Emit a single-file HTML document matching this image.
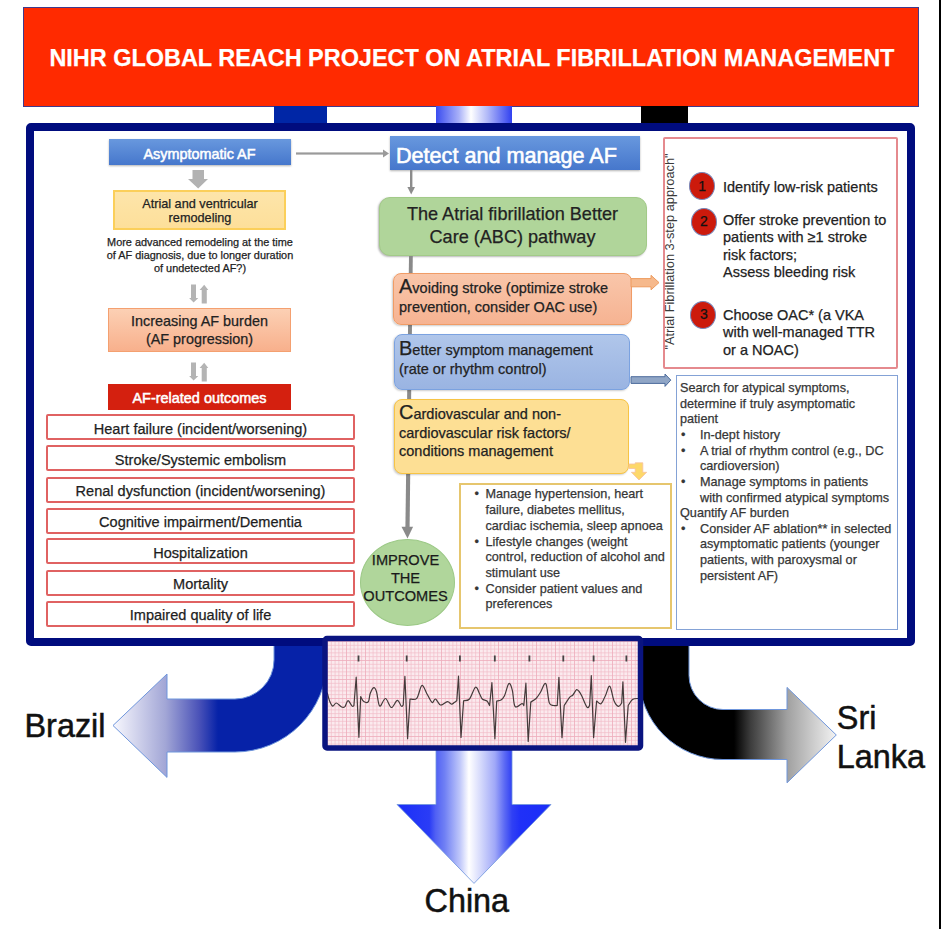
<!DOCTYPE html>
<html><head><meta charset="utf-8">
<style>
html,body{margin:0;padding:0;background:#fff;}
body{width:941px;height:929px;position:relative;overflow:hidden;font-family:"Liberation Sans",sans-serif;color:#222;}
.a{position:absolute;box-sizing:border-box;}
.t{position:absolute;white-space:nowrap;-webkit-text-stroke:0.25px currentColor;}
svg{position:absolute;left:0;top:0;}
</style></head><body>
<div class="a" style="left:939px;top:0px;width:2px;height:929px;background:#000"></div>
<div class="a" style="left:22.5px;top:6.8px;width:896px;height:100px;background:#ff2a00;border:1.6px solid #403a8c"></div>
<div class="t" style="left:49.4px;top:43.67px;text-align:left;font-size:23.45px;line-height:28px;font-weight:bold;color:#fff;">NIHR GLOBAL REACH PROJECT ON ATRIAL FIBRILLATION MANAGEMENT</div>
<div class="a" style="left:274px;top:106px;width:53px;height:20px;background:#0026a6"></div>
<div class="a" style="left:436px;top:106px;width:76px;height:20px;background:linear-gradient(90deg,#3a4cf0,#a8b0f8 30%,#fff 46%,#b0b8f8 68%,#3040f0)"></div>
<div class="a" style="left:641px;top:106px;width:47px;height:20px;background:#000"></div>

<svg class="a" style="left:0;top:0" width="941" height="929" viewBox="0 0 941 929">
<defs>
<linearGradient id="gBr" gradientUnits="userSpaceOnUse" x1="113" y1="0" x2="218" y2="0">
<stop offset="0" stop-color="#f8f8fe"/><stop offset="0.5" stop-color="#a2a6d6"/><stop offset="0.82" stop-color="#4a52b8"/><stop offset="1" stop-color="#0622a8"/></linearGradient>
<linearGradient id="gSl" gradientUnits="userSpaceOnUse" x1="734" y1="0" x2="836" y2="0">
<stop offset="0" stop-color="#000"/><stop offset="0.16" stop-color="#3c3c3c"/><stop offset="0.52" stop-color="#a0a0a0"/><stop offset="0.75" stop-color="#c8c8c8"/><stop offset="1" stop-color="#f2f2f2"/></linearGradient>
<linearGradient id="gCh" gradientUnits="userSpaceOnUse" x1="397" y1="0" x2="551" y2="0">
<stop offset="0" stop-color="#1a2ef8"/><stop offset="0.21" stop-color="#2a3cf6"/><stop offset="0.25" stop-color="#5060f4"/><stop offset="0.31" stop-color="#7080f4"/><stop offset="0.41" stop-color="#c0c8fa"/><stop offset="0.467" stop-color="#ffffff"/><stop offset="0.538" stop-color="#d8dcfc"/><stop offset="0.636" stop-color="#a0a8f8"/><stop offset="0.70" stop-color="#5a68f4"/><stop offset="0.747" stop-color="#3040f4"/><stop offset="0.8" stop-color="#2030f8"/><stop offset="1" stop-color="#1a2ef8"/></linearGradient>
</defs>
<path d="M274,640 L274,660 A39,39 0 0 1 235,699 L167,699 L167,674 L113,725.5 L167,777.4 L167,752 L235,752 A92,92 0 0 0 327,660 L327,640 Z" fill="url(#gBr)" stroke="#6f96dc" stroke-width="1"/>
<path d="M689,640 L689,675.5 A34,34 0 0 0 723,709.5 L787,709.5 L787,687.4 L836.3,735 L787,782.8 L787,759.5 L723,759.5 A84,84 0 0 1 639,675.5 L639,640 Z" fill="url(#gSl)" stroke="#6f96dc" stroke-width="1"/>
<path d="M436,745 L512,745 L512,804.5 L551,804.5 L474,883.4 L397,804.5 L436,804.5 Z" fill="url(#gCh)" stroke="#6f96dc" stroke-width="0.8"/>
</svg><div class="a" style="left:26px;top:123px;width:889px;height:523px;border:8px solid #000c7e;border-radius:5px"></div>
<svg width="941" height="929" viewBox="0 0 941 929">
<defs>
<pattern id="gridMinor" patternUnits="userSpaceOnUse" x="327" y="641" width="3.8" height="3.8"><rect width="3.8" height="3.8" fill="#fbeaee"/><rect width="0.7" height="3.8" fill="#f2bcc8"/><rect width="3.8" height="0.7" fill="#f2bcc8"/></pattern>
<pattern id="gridMajor" patternUnits="userSpaceOnUse" x="327" y="641" width="19" height="19"><rect width="1" height="19" fill="#e890a4"/><rect width="19" height="1" fill="#e890a4"/></pattern>
<filter id="blur1" x="-5%" y="-5%" width="110%" height="110%"><feGaussianBlur stdDeviation="0.35"/></filter>
</defs>
<rect x="325" y="638.5" width="315.5" height="109.5" fill="url(#gridMinor)"/>
<rect x="325" y="638.5" width="315.5" height="109.5" fill="url(#gridMajor)" opacity="0.3"/>
<g filter="url(#blur1)"><path d="M327.3,693.0 C327.7,694.3 328.6,698.5 329.5,700.7 C330.4,702.9 331.6,705.7 332.7,706.1 C333.8,706.5 334.8,702.9 336.3,703.0 C337.8,703.1 340.3,706.4 341.7,707.0 C343.1,707.6 343.8,707.6 344.9,706.6 C345.9,705.6 346.8,700.8 348.0,700.7 C349.2,700.6 351.1,705.3 352.1,706.1 C353.1,706.9 353.6,705.8 353.9,705.7 L356.2,677.2 L358.9,737.3 L360.7,696.6 C361.2,697.4 362.5,700.8 363.8,701.6 C365.1,702.4 367.3,703.0 368.4,701.6 C369.5,700.2 369.3,695.8 370.2,693.5 C371.1,691.2 372.8,687.9 373.8,687.6 C374.9,687.3 375.5,688.6 376.5,691.7 C377.5,694.8 378.2,705.0 379.7,706.1 C381.2,707.2 383.6,698.3 385.5,698.5 C387.4,698.7 389.4,707.2 391.4,707.5 C393.4,707.8 395.6,700.5 397.3,700.3 C399.0,700.1 400.3,705.3 401.3,706.1 C402.3,706.9 402.9,705.2 403.2,705.0 L404.9,676.3 L407.6,738.7 L410.0,699.0 C411.1,698.9 414.8,700.5 416.8,698.3 C418.8,696.0 420.2,686.2 421.9,685.5 C423.6,684.8 425.3,691.2 427.0,694.0 C428.7,696.8 430.7,701.7 432.1,702.5 C433.5,703.3 434.1,698.6 435.5,699.0 C436.9,699.4 438.6,704.5 440.6,705.0 C442.6,705.5 445.5,701.8 447.4,701.7 C449.2,701.6 450.6,704.1 451.7,704.2 C452.8,704.3 453.3,703.1 454.2,702.5 C455.1,701.9 456.4,701.1 456.8,700.8 L458.5,676.2 L461.0,737.4 L463.6,700.8 C464.6,700.5 467.5,701.3 469.5,699.0 C471.5,696.7 473.8,688.0 475.5,687.2 C477.2,686.4 478.6,692.0 479.7,694.0 C480.8,696.0 481.1,697.8 482.3,699.0 C483.5,700.2 485.8,699.9 487.0,701.0 C488.2,702.1 489.2,704.8 489.6,705.5 L491.9,682.7 L494.9,738.8 L496.7,701.0 C497.4,700.8 499.7,700.9 501.0,700.0 C502.3,699.1 503.2,698.5 504.5,695.8 C505.8,693.1 507.6,684.5 508.9,683.6 C510.2,682.7 511.4,686.8 512.4,690.6 C513.4,694.4 513.4,704.2 515.0,706.4 C516.6,708.6 520.5,703.9 522.0,703.7 C523.5,703.6 523.5,705.2 523.8,705.5 L525.9,683.2 L528.2,741.4 L530.8,702.0 C531.7,701.4 534.5,700.1 536.1,698.5 C537.7,696.9 538.9,694.8 540.5,692.3 C542.1,689.8 544.3,681.8 545.8,683.6 C547.3,685.4 548.0,699.2 549.3,702.9 C550.6,706.5 552.3,705.1 553.6,705.5 C554.9,705.9 556.6,705.5 557.2,705.5 L558.9,677.4 L562.0,737.6 L564.2,705.5 C565.1,704.2 568.0,699.4 569.4,697.6 C570.8,695.9 571.7,696.3 572.9,695.0 C574.1,693.7 575.4,690.3 576.4,689.7 C577.4,689.1 578.2,690.5 579.1,691.5 C580.0,692.5 580.4,693.2 581.7,695.8 C583.0,698.4 585.7,705.6 587.0,707.2 C588.3,708.8 589.2,705.8 589.6,705.5 L591.3,675.7 L593.6,737.6 L596.6,701.0 C597.3,701.5 599.5,704.6 601.0,703.7 C602.5,702.8 603.9,698.7 605.4,695.8 C606.9,692.9 608.3,685.3 609.8,686.2 C611.2,687.1 612.6,697.6 614.1,701.0 C615.6,704.4 617.2,706.1 618.5,706.4 C619.8,706.7 621.2,703.5 621.7,702.9 L622.9,681.8 L625.5,742.3 L628.2,705.5 C628.9,704.5 630.8,700.6 632.5,699.4 C634.2,698.2 637.7,698.6 638.7,698.5" fill="none" stroke="#443a3a" stroke-width="1.2" stroke-linejoin="round" stroke-linecap="round"/>
<rect x="357.6" y="655.5" width="1.8" height="6" fill="#444"/><rect x="405.8" y="655.5" width="1.8" height="6" fill="#444"/><rect x="459.0" y="655.5" width="1.8" height="6" fill="#444"/><rect x="493.9" y="655.5" width="1.8" height="6" fill="#444"/><rect x="528.5" y="655.5" width="1.8" height="6" fill="#444"/><rect x="562.4" y="655.5" width="1.8" height="6" fill="#444"/><rect x="592.7" y="655.5" width="1.8" height="6" fill="#444"/><rect x="625.5" y="655.5" width="1.8" height="6" fill="#444"/></g>
<rect x="325" y="638.5" width="315.5" height="109.5" fill="none" stroke="#0a1480" stroke-width="5.5" rx="2"/>
</svg>
<div class="a" style="left:108.5px;top:139px;width:182.5px;height:26px;background:linear-gradient(#6898de,#4677cc);box-shadow:0 1px 2px rgba(0,0,0,.3)"></div>
<div class="t" style="left:143.5px;top:146.21px;text-align:left;font-size:14.4px;line-height:16px;font-weight:normal;color:#fff;-webkit-text-stroke:0.5px #fff;">Asymptomatic AF</div>
<div class="a" style="left:113.2px;top:190px;width:173px;height:40px;background:linear-gradient(#fde5aa,#fddf9a);border:2px solid #fbcf5a"></div>
<div class="t" style="left:114px;top:196.60px;width:172px;text-align:center;font-size:12.7px;line-height:14px;font-weight:normal;color:#222;">Atrial and ventricular<br>remodeling</div>
<div class="t" style="left:100px;top:236.22px;width:200px;text-align:center;font-size:10.9px;line-height:12.8px;font-weight:normal;color:#222;">More advanced remodeling at the time<br>of AF diagnosis, due to longer duration<br>of undetected AF?)</div>
<div class="a" style="left:108px;top:308px;width:183px;height:44px;background:linear-gradient(#fcd0b4,#f8b08c);border:1.5px solid #f4a070"></div>
<div class="t" style="left:108px;top:313.21px;width:183px;text-align:center;font-size:14.4px;line-height:17.6px;font-weight:normal;color:#222;">Increasing AF burden<br>(AF progression)</div>
<div class="a" style="left:108px;top:384px;width:183px;height:26px;background:#d4200f"></div>
<div class="t" style="left:108px;top:390.19px;width:183px;text-align:center;font-size:14.45px;line-height:16px;font-weight:normal;color:#fff;-webkit-text-stroke:0.5px #fff;">AF-related outcomes</div>
<div class="a" style="left:46px;top:414px;width:309px;height:26px;border:2px solid #e06262;border-radius:2px"></div>
<div class="t" style="left:46px;top:419.96px;width:309px;text-align:center;font-size:14.55px;line-height:18px;font-weight:normal;color:#1e1e1e;">Heart failure (incident/worsening)</div>
<div class="a" style="left:46px;top:445px;width:309px;height:26px;border:2px solid #e06262;border-radius:2px"></div>
<div class="t" style="left:46px;top:450.96px;width:309px;text-align:center;font-size:14.55px;line-height:18px;font-weight:normal;color:#1e1e1e;">Stroke/Systemic embolism</div>
<div class="a" style="left:46px;top:476.5px;width:309px;height:26px;border:2px solid #e06262;border-radius:2px"></div>
<div class="t" style="left:46px;top:482.46px;width:309px;text-align:center;font-size:14.55px;line-height:18px;font-weight:normal;color:#1e1e1e;">Renal dysfunction (incident/worsening)</div>
<div class="a" style="left:46px;top:507.5px;width:309px;height:26px;border:2px solid #e06262;border-radius:2px"></div>
<div class="t" style="left:46px;top:513.46px;width:309px;text-align:center;font-size:14.55px;line-height:18px;font-weight:normal;color:#1e1e1e;">Cognitive impairment/Dementia</div>
<div class="a" style="left:46px;top:538px;width:309px;height:26px;border:2px solid #e06262;border-radius:2px"></div>
<div class="t" style="left:46px;top:543.96px;width:309px;text-align:center;font-size:14.55px;line-height:18px;font-weight:normal;color:#1e1e1e;">Hospitalization</div>
<div class="a" style="left:46px;top:569.5px;width:309px;height:26px;border:2px solid #e06262;border-radius:2px"></div>
<div class="t" style="left:46px;top:575.46px;width:309px;text-align:center;font-size:14.55px;line-height:18px;font-weight:normal;color:#1e1e1e;">Mortality</div>
<div class="a" style="left:46px;top:600.5px;width:309px;height:26px;border:2px solid #e06262;border-radius:2px"></div>
<div class="t" style="left:46px;top:606.46px;width:309px;text-align:center;font-size:14.55px;line-height:18px;font-weight:normal;color:#1e1e1e;">Impaired quality of life</div>
<div class="a" style="left:389.5px;top:135.7px;width:250.5px;height:34px;background:linear-gradient(#6898de,#4677cc);box-shadow:0 1px 2px rgba(0,0,0,.3)"></div>
<div class="t" style="left:396px;top:143.82px;text-align:left;font-size:21.6px;line-height:24px;font-weight:normal;color:#fff;-webkit-text-stroke:0.6px #fff;">Detect and manage AF</div>
<div class="a" style="left:378.5px;top:197px;width:268.5px;height:59px;background:#b0d59a;border:1.5px solid #a2ca88;border-radius:11px;box-shadow:-1px 1px 2px rgba(0,0,0,.28)"></div>
<div class="t" style="left:378px;top:202.88px;width:269px;text-align:center;font-size:18.1px;line-height:23.3px;font-weight:normal;color:#222;">The Atrial fibrillation Better<br>Care (ABC) pathway</div>
<svg width="941" height="929" viewBox="0 0 941 929"><path d="M409,256 L412.8,256 L409.6,527 L405.4,527 Z" fill="#8a8a8a"/><path d="M401.5,526.8 L413.1,526.8 L407.5,538.5 Z" fill="#8a8a8a"/></svg>
<div class="a" style="left:393px;top:273px;width:239px;height:52px;background:linear-gradient(#f9c6aa,#f6b392);border:1.5px solid #f09c66;border-radius:8px;box-shadow:-1px 1px 2px rgba(0,0,0,.2)"></div>
<div class="t" style="left:399px;top:279.43px;text-align:left;font-size:14.5px;line-height:18.1px;font-weight:normal;color:#222;"><span style="font-size:20px;line-height:0">A</span>voiding stroke (optimize stroke<br>prevention, consider OAC use)</div>
<div class="a" style="left:394px;top:334px;width:236px;height:56px;background:linear-gradient(#b0c6ea,#9ab4e2);border:1.5px solid #7ba2e0;border-radius:8px;box-shadow:-1px 1px 2px rgba(0,0,0,.2)"></div>
<div class="t" style="left:399px;top:341.38px;text-align:left;font-size:14.5px;line-height:18.4px;font-weight:normal;color:#222;"><span style="font-size:20px;line-height:0">B</span>etter symptom management<br>(rate or rhythm control)</div>
<div class="a" style="left:394px;top:399px;width:235px;height:75px;background:#fddf94;border:1.5px solid #f7c445;border-radius:8px;box-shadow:-1px 1px 2px rgba(0,0,0,.2)"></div>
<div class="t" style="left:399px;top:405.23px;text-align:left;font-size:14.5px;line-height:18.3px;font-weight:normal;color:#222;"><span style="font-size:20px;line-height:0">C</span>ardiovascular and non-<br>cardiovascular risk factors/<br>conditions management</div>
<div class="a" style="left:360px;top:539px;width:95px;height:87px;background:#b0d69b;border:1.5px solid #9cc987;border-radius:50%"></div>
<div class="t" style="left:355px;top:550.64px;width:101px;text-align:center;font-size:14.6px;line-height:18px;font-weight:normal;color:#1a1a1a;">IMPROVE<br>THE<br>OUTCOMES</div>
<div class="a" style="left:459px;top:482.8px;width:213px;height:146.5px;border:2px solid #e6c66e"></div>
<div class="t" style="left:471.5px;top:487.47px;text-align:left;font-size:12.67px;line-height:15.68px;font-weight:normal;color:#363636;"><div style="position:relative;padding-left:14px"><span style="position:absolute;left:3px">•</span>Manage hypertension, heart<br>failure, diabetes mellitus,<br>cardiac ischemia, sleep apnoea</div><div style="position:relative;padding-left:14px"><span style="position:absolute;left:3px">•</span>Lifestyle changes (weight<br>control, reduction of alcohol and<br>stimulant use</div><div style="position:relative;padding-left:14px"><span style="position:absolute;left:3px">•</span>Consider patient values and<br>preferences</div></div>
<div class="a" style="left:663px;top:137px;width:235px;height:232px;border:2px solid #e58a8e;border-radius:2px"></div>
<div class="t" style="left:571px;top:243.5px;width:197px;text-align:center;font-size:12.8px;line-height:15px;color:#3a3a3a;-webkit-text-stroke:0;transform:rotate(-90deg)">"Atrial Fibrillation 3-step approach"</div>
<div class="a" style="left:688.7px;top:172.4px;width:26px;height:28px;border-radius:50%;background:#cc1a0c;border:1px solid #7886b8"></div>
<div class="t" style="left:689.2px;top:177.85px;width:26px;text-align:center;font-size:14px;line-height:16px;font-weight:normal;color:#111;">1</div>
<div class="a" style="left:690.5px;top:207.7px;width:26px;height:28px;border-radius:50%;background:#cc1a0c;border:1px solid #7886b8"></div>
<div class="t" style="left:691.0px;top:213.15px;width:26px;text-align:center;font-size:14px;line-height:16px;font-weight:normal;color:#111;">2</div>
<div class="a" style="left:690.3px;top:300.5px;width:26px;height:28px;border-radius:50%;background:#cc1a0c;border:1px solid #7886b8"></div>
<div class="t" style="left:690.8px;top:305.95px;width:26px;text-align:center;font-size:14px;line-height:16px;font-weight:normal;color:#111;">3</div>
<div class="t" style="left:723px;top:178.78px;text-align:left;font-size:14.5px;line-height:17.6px;font-weight:normal;color:#222;">Identify low-risk patients</div>
<div class="t" style="left:723px;top:211.70px;text-align:left;font-size:14.5px;line-height:17.55px;font-weight:normal;color:#222;">Offer stroke prevention to<br>patients with ≥1 stroke<br>risk factors;<br>Assess bleeding risk</div>
<div class="t" style="left:723px;top:306.63px;text-align:left;font-size:14.5px;line-height:17.5px;font-weight:normal;color:#222;">Choose OAC* (a VKA<br>with well-managed TTR<br>or a NOAC)</div>
<div class="a" style="left:676px;top:375px;width:222px;height:254.5px;border:1.8px solid #84a2d6"></div>
<div class="t" style="left:680px;top:381.09px;text-align:left;font-size:12.67px;line-height:15.64px;font-weight:normal;color:#363636;">Search for atypical symptoms,<br>determine if truly asymptomatic<br>patient<div style="position:relative;padding-left:20px"><span style="position:absolute;left:1px">•</span>In-dept history</div><div style="position:relative;padding-left:20px"><span style="position:absolute;left:1px">•</span>A trial of rhythm control (e.g., DC<br>cardioversion)</div><div style="position:relative;padding-left:20px"><span style="position:absolute;left:1px">•</span>Manage symptoms in patients<br>with confirmed atypical symptoms</div>Quantify AF burden<div style="position:relative;padding-left:20px"><span style="position:absolute;left:1px">•</span>Consider AF ablation** in selected<br>asymptomatic patients (younger<br>patients, with paroxysmal or<br>persistent AF)</div></div>
<div class="t" style="left:24.5px;top:708.27px;text-align:left;font-size:32.4px;line-height:37px;font-weight:normal;color:#111;-webkit-text-stroke:0.5px #111;">Brazil</div>
<div class="t" style="left:836.8px;top:698.77px;text-align:left;font-size:32.4px;line-height:39.2px;font-weight:normal;color:#111;-webkit-text-stroke:0.5px #111;">Sri<br>Lanka</div>
<div class="t" style="left:424.5px;top:883.27px;text-align:left;font-size:32.4px;line-height:37px;font-weight:normal;color:#111;-webkit-text-stroke:0.5px #111;">China</div>
<!-- arrows overlay -->
<svg class="a" style="left:0;top:0" width="941" height="929" viewBox="0 0 941 929">
<!-- horizontal grey arrow -->
<rect x="296" y="152.4" width="88" height="2.2" fill="#9a9a9a"/>
<path d="M383,149.6 L389,153.5 L383,157.4 Z" fill="#9a9a9a"/>
<!-- vertical grey arrow Detect -> ABC -->
<rect x="410" y="170" width="2.4" height="18" fill="#8c8c8c"/>
<path d="M407.4,187 L415,187 L411.2,194.6 Z" fill="#8c8c8c"/>
<!-- down grey block arrow -->
<path d="M192.5,170 L204,170 L204,179 L208,179 L198.2,188.5 L188,179 L192.5,179 Z" fill="#b2b2b2"/>
<!-- up/down pairs -->
<path d="M191,284.4 L196,284.4 L196,298 L198.3,298 L193.6,302.5 L189.1,298 L191,298 Z" fill="#b4b4b4"/>
<path d="M201.7,303.5 L206.8,303.5 L206.8,290 L208.3,290 L204.2,284.8 L199.6,290 L201.7,290 Z" fill="#b4b4b4"/>
<path d="M191,362.4 L196,362.4 L196,376 L198.3,376 L193.6,380.5 L189.1,376 L191,376 Z" fill="#b4b4b4"/>
<path d="M201.7,381.5 L206.8,381.5 L206.8,368 L208.3,368 L204.2,362.8 L199.6,368 L201.7,368 Z" fill="#b4b4b4"/>
<!-- orange arrow -->
<path d="M631,278.6 L651,278.6 L651,275.3 L659,282.6 L651,289.8 L651,286.8 L631,286.8 Z" fill="#f6b98c" stroke="#ee9c5e" stroke-width="1"/>
<!-- blue arrow -->
<path d="M631,376.7 L665,376.7 L665,374 L670.8,380.1 L665,386.4 L665,383.4 L631,383.4 Z" fill="#90a6c6" stroke="#4d6c9c" stroke-width="1"/>
<!-- yellow small arrow -->
<path d="M629,464 L635.2,464 L635.2,462.8 L642.8,462.8 L642.8,472.3 L646.7,472.3 L639,480 L631.4,472.3 L635.2,472.3 L635.2,468.5 L629,468.5 Z" fill="#fdd86a" stroke="#f8c0a0" stroke-width="0.8"/>
</svg>
</body></html>
